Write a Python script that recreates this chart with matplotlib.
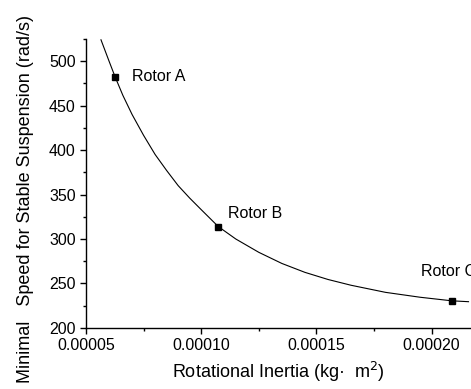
## Minimal speed for stable suspension vs rotational inertia
import numpy as np
import matplotlib.pyplot as plt
from matplotlib.ticker import MultipleLocator, FormatStrFormatter

plt.rcParams['font.family'] = ['Liberation Sans', 'DejaVu Sans']

# fitted curve
curve_inertia = [0.0000565, 0.0000600, 0.0000626, 0.0000660, 0.0000700, 0.0000750,
                 0.0000800, 0.0000850, 0.0000900, 0.0000950, 0.0001000, 0.0001074,
                 0.0001150, 0.0001250, 0.0001350, 0.0001450, 0.0001550, 0.0001650,
                 0.0001800, 0.0001950, 0.0002087, 0.0002160]
curve_speed = [524.0, 500.0, 482.5, 461.5, 440.0, 416.5,
               395.0, 377.0, 360.0, 346.0, 333.0, 314.0,
               300.0, 285.0, 272.5, 262.5, 254.5, 248.0,
               240.0, 234.5, 230.5, 229.5]

# the three rotors
rotor_names = ['Rotor A', 'Rotor B', 'Rotor C']
rotor_inertia = [0.0000626, 0.0001074, 0.000209]
rotor_speed = [482.5, 314.0, 230.5]
label_offsets = [(12, 0), (7, 9.5), (-22.5, 21)]  # points

fig = plt.figure(figsize=(4.71, 3.89), dpi=100)
ax = fig.add_axes([0.1826, 0.157, 0.817, 0.743])

ax.plot(curve_inertia, curve_speed, color='black', lw=0.8)
ax.plot(rotor_inertia, rotor_speed, 's', color='black', ms=5)

# Rotor C runs off the right edge, like in the original figure
for name, xi, yi, off in zip(rotor_names, rotor_inertia, rotor_speed, label_offsets):
    ax.annotate(name, (xi, yi), xytext=off, textcoords='offset points',
                ha='left', va='center', fontsize=11.5, annotation_clip=False)

ax.set_xlim(0.00005, 0.000217)
ax.set_ylim(200, 525)
ax.xaxis.set_major_locator(MultipleLocator(0.00005))
ax.xaxis.set_minor_locator(MultipleLocator(0.000025))
ax.xaxis.set_major_formatter(FormatStrFormatter('%.5f'))
ax.yaxis.set_major_locator(MultipleLocator(50))
ax.yaxis.set_minor_locator(MultipleLocator(25))

ax.spines['top'].set_visible(False)
ax.spines['right'].set_visible(False)
for s in ['left', 'bottom']:
    ax.spines[s].set_linewidth(1.0)
ax.tick_params(which='major', direction='out', length=4, width=1, labelsize=11.5)
ax.tick_params(which='minor', direction='out', length=2.5, width=1)

ax.set_xlabel('Rotational Inertia (kg\u00b7  m$^2$)', fontsize=13, labelpad=5)
ax.set_ylabel('Minimal   Speed for Stable Suspension (rad/s)', fontsize=13)
ax.yaxis.set_label_coords(-0.135, 0.446)

fig.savefig('out.png', dpi=100)
